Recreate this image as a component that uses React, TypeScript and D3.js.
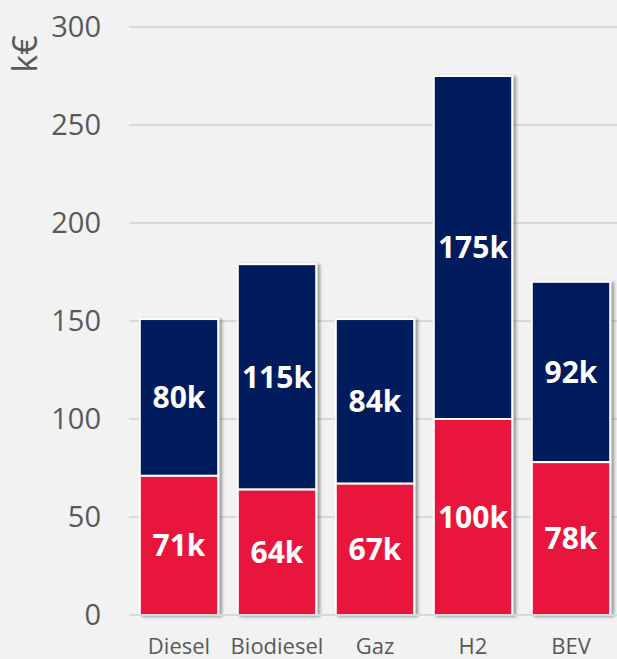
import React from "react";
import * as d3 from "d3";

const categories = ["Diesel", "Biodiesel", "Gaz", "H2", "BEV"];
const redValues = [71, 64, 67, 100, 78];
const navyValues = [80, 115, 84, 175, 92];
const yTicks = [0, 50, 100, 150, 200, 250, 300];

const W = 617;
const H = 659;
const RED = "#E8193C";
const NAVY = "#001F5B";
const FONT = "'Open Sans', 'Noto Sans', sans-serif";

export default function App() {
  const y = d3.scaleLinear().domain([0, 300]).range([615, 27]);
  const x = d3.scaleBand<string>().domain(categories).range([130, 620]).paddingInner(0.2).paddingOuter(0.1);
  const bw = x.bandwidth();

  return (
    <svg width={W} height={H} style={{ position: "absolute", left: 0, top: 0, background: "#f2f2f2" }}>
      <defs>
        <filter id="shadow" x="-20%" y="-20%" width="140%" height="140%">
          <feDropShadow dx={3} dy={1} stdDeviation={1.8} floodColor="#000" floodOpacity={0.35} />
        </filter>
      </defs>
      <rect x={0} y={0} width={W} height={H} fill="#f2f2f2" />
      {yTicks.map((t) => (
        <g key={t}>
          <line x1={129} x2={W} y1={y(t)} y2={y(t)} stroke="#d9d9d9" strokeWidth={2} />
          <text x={101} y={y(t)} dy="0.35em" textAnchor="end" fontFamily={FONT} fontSize={29} fill="#595959">
            {t}
          </text>
        </g>
      ))}
      <text
        transform={`translate(37,54) rotate(-90)`}
        textAnchor="middle"
        fontFamily={FONT}
        fontSize={34}
        fill="#595959"
      >
        k€
      </text>
      {categories.map((c, i) => {
        const x0 = x(c)!;
        const r = redValues[i];
        const n = navyValues[i];
        const cx = x0 + bw / 2;
        return (
          <g key={c}>
            <g filter="url(#shadow)">
              <rect x={x0} y={y(r + n)} width={bw} height={y(r) - y(r + n)} fill={NAVY} stroke="#fff" strokeWidth={2} />
              <rect x={x0} y={y(r)} width={bw} height={y(0) - y(r)} fill={RED} stroke="#fff" strokeWidth={2} />
            </g>
            <text x={cx} y={(y(0) + y(r)) / 2} dy="0.36em" textAnchor="middle" fontFamily={FONT} fontWeight="bold" fontSize={30} fill="#fff">
              {r}k
            </text>
            <text x={cx} y={(y(r) + y(r + n)) / 2} dy="0.36em" textAnchor="middle" fontFamily={FONT} fontWeight="bold" fontSize={30} fill="#fff">
              {n}k
            </text>
            <text x={cx} y={654} textAnchor="middle" fontFamily={FONT} fontSize={22} fill="#595959">
              {c}
            </text>
          </g>
        );
      })}
      <line x1={129} x2={W} y1={y(0)} y2={y(0)} stroke="#d9d9d9" strokeWidth={2} />
    </svg>
  );
}
